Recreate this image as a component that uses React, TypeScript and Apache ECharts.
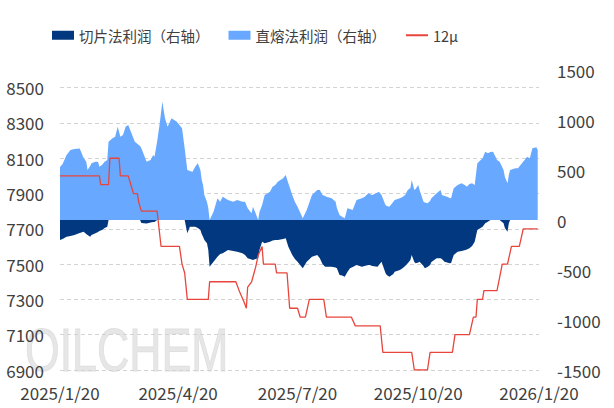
import React, { useEffect, useRef } from "react";
import * as echarts from "echarts";

const FONT = "'Microsoft YaHei', 'Noto Sans CJK SC', 'Noto Sans', sans-serif";

const cutName = "切片法利润（右轴）";
const meltName = "直熔法利润（右轴）";
const priceName = "12μ";

const tickLabels = ["2025/1/20", "2025/4/20", "2025/7/20", "2025/10/20", "2026/1/20"];

const areaDates = [
  "2025/1/20", "2025/1/22", "2025/1/25", "2025/1/28", "2025/1/31", "2025/2/4", "2025/2/7", "2025/2/9", "2025/2/10", "2025/2/12",
  "2025/2/13", "2025/2/16", "2025/2/18", "2025/2/19", "2025/2/21", "2025/2/23", "2025/2/25", "2025/2/26", "2025/3/1", "2025/3/3",
  "2025/3/5", "2025/3/7", "2025/3/9", "2025/3/11", "2025/3/13", "2025/3/16", "2025/3/18", "2025/3/22", "2025/3/23", "2025/3/27",
  "2025/3/30", "2025/4/1", "2025/4/2", "2025/4/4", "2025/4/6", "2025/4/8", "2025/4/10", "2025/4/12", "2025/4/15", "2025/4/19",
  "2025/4/23", "2025/4/25", "2025/4/27", "2025/4/29", "2025/5/1", "2025/5/3", "2025/5/5", "2025/5/7", "2025/5/8", "2025/5/9",
  "2025/5/10", "2025/5/12", "2025/5/13", "2025/5/14", "2025/5/17", "2025/5/20", "2025/5/22", "2025/5/24", "2025/5/28", "2025/6/1",
  "2025/6/4", "2025/6/8", "2025/6/10", "2025/6/12", "2025/6/15", "2025/6/16", "2025/6/18", "2025/6/20", "2025/6/21", "2025/6/23",
  "2025/6/25", "2025/6/29", "2025/7/1", "2025/7/3", "2025/7/5", "2025/7/9", "2025/7/11", "2025/7/13", "2025/7/16", "2025/7/18",
  "2025/7/20", "2025/7/24", "2025/7/27", "2025/7/31", "2025/8/4", "2025/8/6", "2025/8/8", "2025/8/10", "2025/8/11", "2025/8/15",
  "2025/8/18", "2025/8/19", "2025/8/21", "2025/8/23", "2025/8/25", "2025/8/27", "2025/8/29", "2025/8/31", "2025/9/3", "2025/9/7",
  "2025/9/9", "2025/9/12", "2025/9/13", "2025/9/15", "2025/9/19", "2025/9/20", "2025/9/22", "2025/9/25", "2025/9/26", "2025/9/28",
  "2025/10/1", "2025/10/2", "2025/10/6", "2025/10/8", "2025/10/10", "2025/10/12", "2025/10/14", "2025/10/15", "2025/10/17", "2025/10/18",
  "2025/10/20", "2025/10/21", "2025/10/24", "2025/10/25", "2025/10/27", "2025/10/29", "2025/10/30", "2025/11/3", "2025/11/6", "2025/11/7",
  "2025/11/9", "2025/11/11", "2025/11/13", "2025/11/14", "2025/11/16", "2025/11/19", "2025/11/22", "2025/11/25", "2025/11/26", "2025/11/28",
  "2025/11/30", "2025/12/2", "2025/12/4", "2025/12/8", "2025/12/10", "2025/12/12", "2025/12/14", "2025/12/16", "2025/12/19", "2025/12/21",
  "2025/12/24", "2025/12/25", "2025/12/27", "2025/12/28", "2025/12/29", "2026/1/2", "2026/1/4", "2026/1/7", "2026/1/11", "2026/1/13",
  "2026/1/15", "2026/1/18", "2026/1/19",
];

const meltProfit = [
  530, 560, 650, 700, 710, 715, 620, 583, 500, 540,
  567, 583, 583, 533, 550, 583, 600, 783, 817, 833,
  933, 833, 850, 933, 950, 850, 783, 740, 717, 583,
  600, 650, 633, 783, 967, 1183, 1017, 933, 1017, 983,
  917, 717, 500, 490, 483, 533, 567, 500, 400, 350,
  250, 180, 117, 0, 83, 217, 183, 233, 200, 183,
  200, 183, 183, 117, 67, 133, 70, 0, 80, 150,
  250, 283, 333, 350, 383, 417, 450, 367, 250, 180,
  133, 17, 100, 250, 300, 300, 250, 240, 233, 217,
  183, 120, 50, 33, 17, 117, 110, 100, 200, 217,
  230, 267, 260, 250, 275, 283, 250, 150, 140, 133,
  183, 200, 217, 230, 250, 300, 320, 400, 300, 310,
  350, 300, 183, 175, 167, 190, 217, 267, 300, 250,
  240, 233, 220, 217, 317, 350, 367, 345, 333, 360,
  367, 350, 567, 617, 683, 667, 680, 683, 600, 583,
  500, 430, 367, 450, 500, 517, 517, 567, 633, 617,
  717, 727, 700,
];

const cutProfit = [
  -200, -190, -167, -160, -150, -130, -117, -140, -150, -167,
  -150, -133, -120, -110, -100, -80, -67, 0, 0, 0,
  0, 0, 0, 0, 0, 0, 0, 0, -30, -35,
  -25, -20, -20, 0, 0, 0, 0, 0, 0, 0,
  0, 0, -133, -67, -67, -67, -80, -100, -140, -167,
  -200, -233, -300, -467, -417, -367, -340, -333, -300, -310,
  -317, -333, -350, -383, -395, -400, -390, -383, -300, -217,
  -233, -217, -205, -200, -200, -190, -183, -267, -350, -390,
  -417, -483, -417, -367, -350, -383, -440, -467, -467, -467,
  -475, -483, -550, -555, -567, -520, -483, -470, -450, -467,
  -460, -450, -450, -460, -467, -450, -417, -530, -550, -567,
  -540, -517, -500, -483, -460, -433, -400, -350, -420, -433,
  -425, -417, -460, -483, -470, -450, -420, -383, -383, -390,
  -417, -425, -433, -430, -350, -317, -310, -300, -295, -283,
  -260, -217, -100, -67, -33, -17, 0, 0, 0, 0,
  -33, -80, -117, -33, 0, 0, 0, 0, 0, 0,
  0, 0, 0,
];

const priceDates = [
  "2025/1/20", "2025/2/19", "2025/2/20", "2025/2/26", "2025/2/27", "2025/3/6", "2025/3/7", "2025/3/13", "2025/3/15", "2025/3/17",
  "2025/3/20", "2025/3/21", "2025/3/23", "2025/4/4", "2025/4/7", "2025/4/21", "2025/4/23", "2025/4/25", "2025/4/27", "2025/5/13",
  "2025/5/14", "2025/6/3", "2025/6/6", "2025/6/9", "2025/6/11", "2025/6/12", "2025/6/15", "2025/6/18", "2025/6/20", "2025/6/23",
  "2025/6/24", "2025/7/3", "2025/7/4", "2025/7/12", "2025/7/14", "2025/7/20", "2025/7/22", "2025/7/26", "2025/7/29", "2025/8/9",
  "2025/8/11", "2025/8/30", "2025/9/2", "2025/9/21", "2025/9/23", "2025/10/15", "2025/10/17", "2025/10/27", "2025/10/29", "2025/11/15",
  "2025/11/17", "2025/11/28", "2025/12/1", "2025/12/3", "2025/12/4", "2025/12/8", "2025/12/9", "2025/12/19", "2025/12/23", "2025/12/27",
  "2025/12/30", "2026/1/5", "2026/1/8", "2026/1/19",
];

const priceValues = [
  8000, 8000, 7950, 7950, 8100, 8100, 8000, 8000, 7950, 7900,
  7900, 7850, 7800, 7800, 7600, 7600, 7500, 7450, 7300, 7300,
  7400, 7400, 7340, 7290, 7250, 7370, 7400, 7480, 7550, 7600,
  7500, 7500, 7450, 7450, 7250, 7250, 7200, 7200, 7300, 7300,
  7200, 7200, 7150, 7150, 7000, 7000, 6900, 6900, 7000, 7000,
  7100, 7100, 7200, 7200, 7300, 7300, 7350, 7350, 7500, 7500,
  7600, 7600, 7700, 7700,
];

function buildDays(): string[] {
  const out: string[] = [];
  const t0 = Date.UTC(2025, 0, 20);
  for (let i = 0; i <= 365; i++) {
    const d = new Date(t0 + i * 86400000);
    out.push(`${d.getUTCFullYear()}/${d.getUTCMonth() + 1}/${d.getUTCDate()}`);
  }
  return out;
}

const zip = (a: string[], b: number[]) => a.map((d, i) => [d, b[i]]);

export default function App() {
  const ref = useRef<HTMLDivElement>(null);
  useEffect(() => {
    document.body.style.margin = "0";
    if (!ref.current) return;
    const chart = echarts.init(ref.current, null, { renderer: "svg" });
    const days = buildDays();
    const labelColor = "#404040";
    const plain = (v: number) => String(v);
    const option: any = {
      animation: false,
      backgroundColor: "#ffffff",
      textStyle: { fontFamily: FONT },
      graphic: [
        {
          type: "text",
          x: 25,
          y: 318,
          scaleX: 0.72,
          z: -10,
          silent: true,
          style: {
            text: "OILCHEM",
            x: 0,
            y: 0,
            fontSize: 62,
            fontFamily: "'Liberation Sans', Arial, sans-serif",
            fill: "rgba(222,222,222,0.75)",
            stroke: "rgba(205,205,205,0.6)",
            lineWidth: 1,
            verticalAlign: "top",
          },
        },
      ],
      legend: {
        left: 52,
        top: 28,
        padding: 0,
        itemWidth: 22,
        itemHeight: 9,
        itemGap: 19,
        textStyle: { fontSize: 14.5, color: labelColor, fontFamily: FONT },
        data: [
          { name: cutName, icon: "rect" },
          { name: meltName, icon: "rect" },
          { name: priceName, itemStyle: { opacity: 0 } },
        ],
      },
      grid: { left: 60, right: 75, top: 70, bottom: 38 },
      xAxis: {
        type: "category",
        data: days,
        boundaryGap: false,
        axisLine: { show: false },
        axisTick: { show: false },
        splitLine: { show: false },
        axisLabel: {
          interval: (_i: number, v: string) => tickLabels.includes(v),
          fontSize: 17,
          color: labelColor,
          margin: 14,
          fontFamily: FONT,
        },
      },
      yAxis: [
        {
          type: "value",
          position: "left",
          min: 6900,
          max: 8600,
          interval: 200,
          axisLine: { show: false },
          axisTick: { show: false },
          axisLabel: { showMaxLabel: false, fontSize: 17, color: labelColor, margin: 16, fontFamily: FONT, formatter: plain },
          splitLine: {
            show: true,
            showMaxLine: false,
            lineStyle: { type: [4, 3], color: "#d3d3d3", width: 1 },
          },
        },
        {
          type: "value",
          position: "right",
          min: -1500,
          max: 1500,
          interval: 500,
          axisLine: { show: false },
          axisTick: { show: false },
          splitLine: { show: false },
          axisLabel: { fontSize: 17, color: labelColor, margin: 18, fontFamily: FONT, formatter: plain },
        },
      ],
      series: [
        {
          name: meltName,
          type: "line",
          yAxisIndex: 1,
          symbol: "none",
          data: zip(areaDates, meltProfit),
          itemStyle: { color: "#68A8FF" },
          lineStyle: { width: 0, color: "#68A8FF" },
          areaStyle: { color: "#68A8FF", opacity: 1 },
          z: 1,
        },
        {
          name: cutName,
          type: "line",
          yAxisIndex: 1,
          symbol: "none",
          data: zip(areaDates, cutProfit),
          itemStyle: { color: "#02387F" },
          lineStyle: { width: 0, color: "#02387F" },
          areaStyle: { color: "#02387F", opacity: 1 },
          z: 2,
        },
        {
          name: priceName,
          type: "line",
          yAxisIndex: 0,
          symbol: "none",
          data: zip(priceDates, priceValues),
          itemStyle: { color: "#E8453C" },
          lineStyle: { width: 1.3, color: "#E8453C" },
          z: 3,
        },
      ],
    };
    chart.setOption(option);
    return () => chart.dispose();
  }, []);
  return <div ref={ref} style={{ width: 614, height: 408 }} />;
}
